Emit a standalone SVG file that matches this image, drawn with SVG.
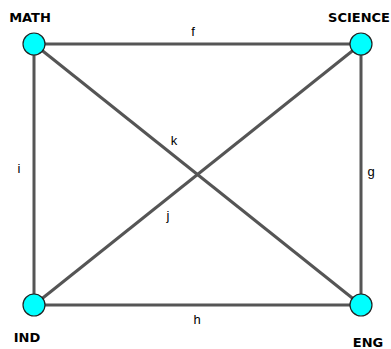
<svg xmlns="http://www.w3.org/2000/svg" width="391" height="349" viewBox="0 0 391 349">
<style>
.e{stroke:#555;stroke-width:3;fill:none}
.n{fill:#00ffff;stroke:#222;stroke-width:1.2}
.nl{font-family:"DejaVu Sans",Verdana,sans-serif;font-weight:bold;font-size:13px;fill:#000}
.el{font-family:"Liberation Sans",Arial,sans-serif;font-size:13px;fill:#000}
</style>
<rect width="391" height="349" fill="#fff"/>
<g id="connectors">
<line class="e" x1="34" y1="44" x2="361" y2="44"/>
<line class="e" x1="34" y1="44" x2="34" y2="305"/>
<line class="e" x1="361" y1="44" x2="361" y2="305"/>
<line class="e" x1="34" y1="305" x2="361" y2="305"/>
<line class="e" x1="34" y1="44" x2="361" y2="305"/>
<line class="e" x1="361" y1="44" x2="34" y2="305"/>
<text class="el" x="193" y="36" text-anchor="middle">f</text>
<text class="el" x="19" y="173" text-anchor="middle">i</text>
<text class="el" x="174" y="145" text-anchor="middle">k</text>
<text class="el" x="371" y="176" text-anchor="middle">g</text>
<text class="el" x="168" y="220" text-anchor="middle">j</text>
<text class="el" x="197" y="324" text-anchor="middle">h</text>
</g>
<g id="MATH"><circle class="n" cx="34" cy="44" r="11"/><text class="nl" x="30" y="22" text-anchor="middle">MATH</text></g>
<g id="SCIENCE"><circle class="n" cx="361" cy="44" r="11"/><text class="nl" x="359" y="22" text-anchor="middle">SCIENCE</text></g>
<g id="IND"><circle class="n" cx="34" cy="305" r="11"/><text class="nl" x="27" y="342" text-anchor="middle">IND</text></g>
<g id="ENG"><circle class="n" cx="361" cy="305" r="11"/><text class="nl" x="368" y="347" text-anchor="middle">ENG</text></g>
</svg>
